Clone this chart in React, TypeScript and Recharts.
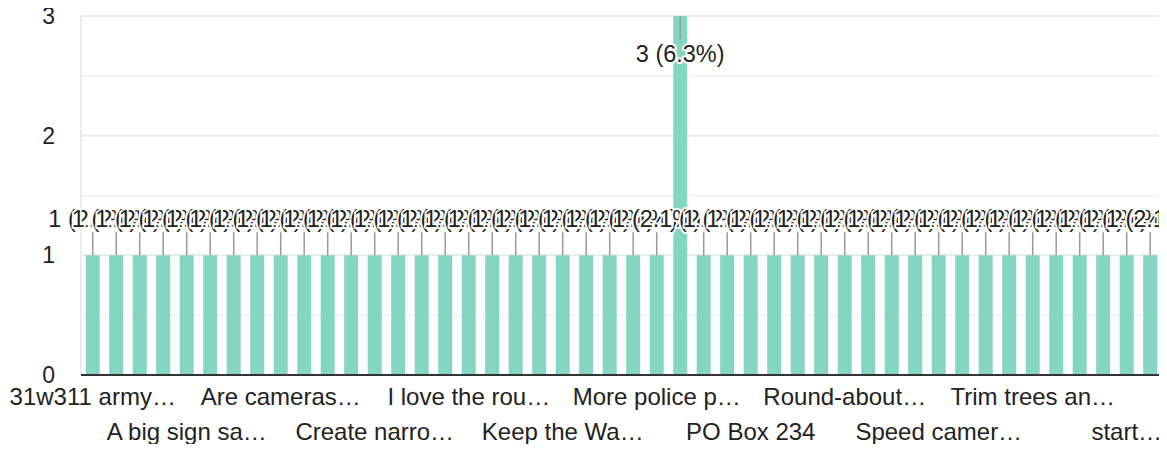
import React from "react";
import {
  BarChart,
  Bar,
  XAxis,
  YAxis,
  CartesianGrid,
  LabelList,
} from "recharts";

const categories = [
  "31w311 army…",
  "4 way stop…",
  "A 4-way st…",
  "A bigger si…",
  "A big sign sa…",
  "Add a light…",
  "Add more si…",
  "Add speed b…",
  "Are cameras…",
  "Better light…",
  "Blinking lig…",
  "Close the r…",
  "Create narro…",
  "Crosswalks…",
  "Enforce the…",
  "Fix the pot…",
  "I love the rou…",
  "Install a tr…",
  "It is fine…",
  "Just more…",
  "Keep the Wa…",
  "Lower the s…",
  "Make it a 4…",
  "More enforc…",
  "More police p…",
  "None",
  "Not sure…",
  "Nothing…",
  "PO Box 234",
  "Police pres…",
  "Put in a ro…",
  "Reduce spe…",
  "Round-about…",
  "Rumble stri…",
  "Signs warn…",
  "Slow down…",
  "Speed camer…",
  "Speed hump…",
  "Stop light…",
  "Traffic light…",
  "Trim trees an…",
  "Turn lane…",
  "Wider road…",
  "Yield signs…",
  "start…",
  "traffic circ…",
];

const responses = [
  1, 1, 1, 1, 1, 1, 1, 1, 1, 1,
  1, 1, 1, 1, 1, 1, 1, 1, 1, 1,
  1, 1, 1, 1, 1, 3, 1, 1, 1, 1,
  1, 1, 1, 1, 1, 1, 1, 1, 1, 1,
  1, 1, 1, 1, 1, 1,
];

const majorTicks = [0, 1, 2, 3];
const minorTicks = [0.5, 1.5, 2.5];

const total = responses.reduce((a, b) => a + b, 0);
const yMax = Math.max(...majorTicks);

const data = categories.map((name, i) => ({ name, value: responses[i] }));

const FONT = "'Liberation Sans', Arial, sans-serif";
const TEXT = "#222222";
const BAR = "#84d5c1";

const gridYs = (values: number[]) => ({ offset }: any) =>
  values.map((v) => offset.top + offset.height * (1 - v / yMax));

const XTick = (props: any) => {
  const { x, y, payload } = props;
  const idx = categories.indexOf(payload.value);
  const row = Math.round(idx / 4) % 2;
  return (
    <text
      x={x}
      y={y + (row === 0 ? 30 : 65)}
      textAnchor="middle"
      fontFamily={FONT}
      fontSize={24}
      fill={TEXT}
    >
      {payload.value}
    </text>
  );
};

const BarLabel = (props: any) => {
  const { x, y, width, value } = props;
  const cx = Number(x) + Number(width) / 2;
  const top = Number(y);
  const inside = Number(value) >= yMax;
  const label = `${value} (${((Number(value) / total) * 100).toFixed(1)}%)`;
  const stemEnd = inside ? top + 23 : top - 23;
  const textY = inside ? top + 46 : top - 28;
  return (
    <g>
      <line x1={cx} y1={top} x2={cx} y2={stemEnd} stroke="#999999" strokeWidth={1.5} />
      <text
        x={cx}
        y={textY}
        textAnchor="middle"
        fontFamily={FONT}
        fontSize={23.5}
        fill={TEXT}
        stroke="#ffffff"
        strokeWidth={4}
        strokeLinejoin="round"
        paintOrder="stroke"
      >
        {label}
      </text>
    </g>
  );
};

export default function App() {
  return (
    <div style={{ margin: -8, width: 1167, height: 452, background: "#fff" }}>
      <BarChart
        width={1167}
        height={452}
        data={data}
        margin={{ top: 16, right: 5, bottom: 0, left: 0 }}
        barCategoryGap="20%"
      >
        <CartesianGrid
          stroke="#f4f4f4"
          strokeWidth={2}
          vertical={false}
          horizontalCoordinatesGenerator={gridYs(minorTicks)}
        />
        <CartesianGrid
          stroke="#ebebeb"
          strokeWidth={2}
          horizontalCoordinatesGenerator={gridYs(majorTicks)}
          verticalCoordinatesGenerator={({ offset }: any) => [
            offset.left,
            offset.left + offset.width,
          ]}
        />
        <XAxis
          dataKey="name"
          interval={3}
          height={77}
          tickLine={false}
          tickSize={0}
          tickMargin={0}
          axisLine={{ stroke: "#333333", strokeWidth: 2 }}
          tick={<XTick />}
        />
        <YAxis
          width={81}
          domain={[0, yMax]}
          ticks={majorTicks}
          tickLine={false}
          axisLine={false}
          tickSize={0}
          tickMargin={26}
          tick={{ fontFamily: FONT, fontSize: 23, fill: TEXT }}
        />
        <Bar dataKey="value" fill={BAR} isAnimationActive={false}>
          <LabelList dataKey="value" content={(p: any) => <BarLabel {...p} />} />
        </Bar>
      </BarChart>
    </div>
  );
}
